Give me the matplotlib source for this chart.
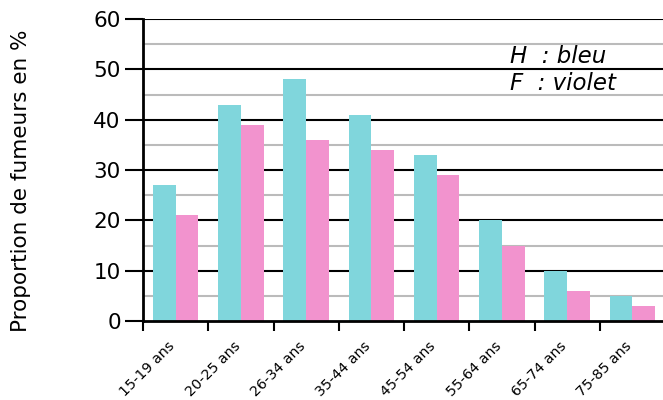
import numpy as np
import matplotlib.pyplot as plt

categories = ["15-19 ans", "20-25 ans", "26-34 ans", "35-44 ans",
              "45-54 ans", "55-64 ans", "65-74 ans", "75-85 ans"]
hommes = [27, 43, 48, 41, 33, 20, 10, 5]
femmes = [21, 39, 36, 34, 29, 15, 6, 3]

c_h = "#80d6dc"
c_f = "#f293ce"

fig = plt.figure(figsize=(6.63, 4.0), dpi=100)
ax = fig.add_axes([143 / 663, 79 / 400, 522 / 663, 302 / 400])

x = np.arange(len(categories))
w = 0.35
ax.bar(x + 0.15, hommes, width=w, align="edge", color=c_h, zorder=3)
ax.bar(x + 0.15 + w, femmes, width=w, align="edge", color=c_f, zorder=3)

ax.set_xlim(0, len(categories))
ax.set_ylim(0, 60)

# grid: black majors, gray minors
for v in range(5, 60, 10):
    ax.axhline(v, color="#bbbbbb", lw=1.5, zorder=1)
for v in range(10, 70, 10):
    ax.axhline(v, color="black", lw=1.5, zorder=1)

ax.set_yticks(range(0, 70, 10))
ax.tick_params(axis="y", labelsize=15.5, length=13, width=1.5, direction="out", pad=3)
ax.set_xticks(x)
ax.set_xticklabels([])
ax.tick_params(axis="x", length=7, width=1.5, direction="out")
for i, lab in enumerate(categories):
    ax.text(i + 0.38, -3.6, lab, rotation=45, ha="right", va="top",
            rotation_mode="anchor", fontsize=10.3)

for s in ["top", "right"]:
    ax.spines[s].set_visible(False)
ax.spines["left"].set_linewidth(2)
ax.spines["bottom"].set_linewidth(2)
ax.spines["bottom"].set_zorder(4)

fig.text(21 / 663, 1 - 181 / 400, "Proportion de fumeurs en %", rotation=90,
         ha="center", va="center", fontsize=15.5)

ax.text(5.62, 52.6, "H  : bleu", fontsize=16.5, style="italic", va="center")
ax.text(5.62, 47.2, "F  : violet", fontsize=16.5, style="italic", va="center")

fig.savefig("out.png", dpi=100)
